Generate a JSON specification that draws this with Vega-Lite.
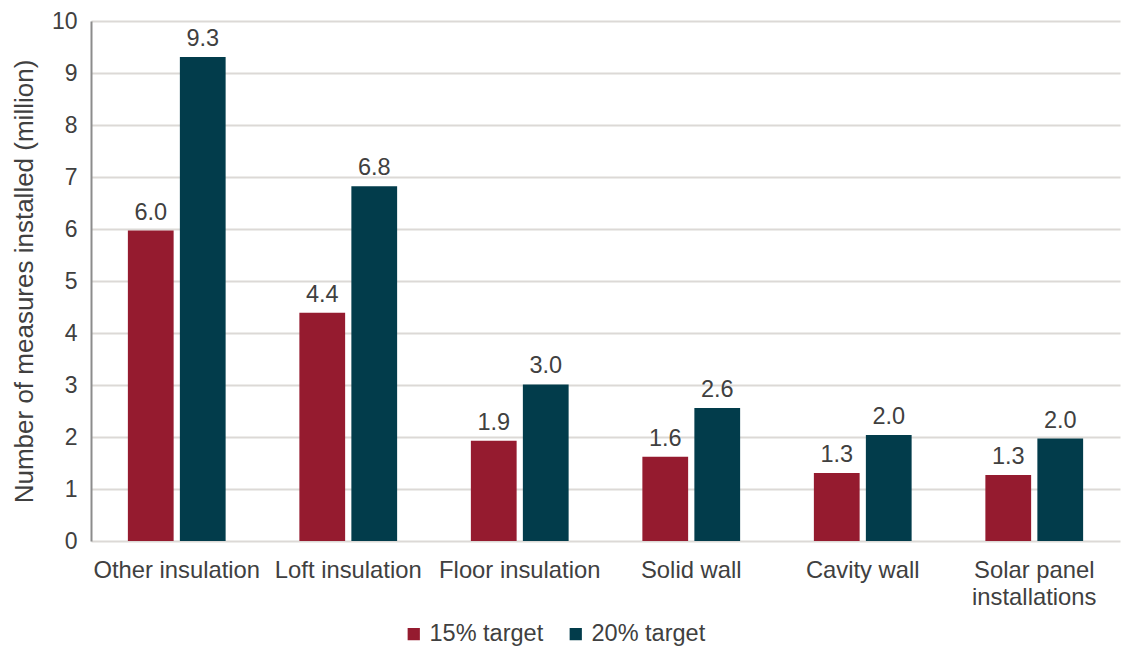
{
  "$schema": "https://vega.github.io/schema/vega-lite/v6.json",
  "width": 1124,
  "height": 649,
  "autosize": {"type": "fit", "contains": "padding"},
  "padding": {"left": 11, "right": 4, "top": 10, "bottom": 40},
  "background": "white",
  "config": {
    "font": "Liberation Sans",
    "view": {"stroke": null},
    "axis": {"labelFont": "Liberation Sans", "titleFont": "Liberation Sans"}
  },
  "data": {
    "values": [
      {"measure": "Other insulation", "series": "15% target", "value": 5.97},
      {"measure": "Other insulation", "series": "20% target", "value": 9.31},
      {"measure": "Loft insulation", "series": "15% target", "value": 4.39},
      {"measure": "Loft insulation", "series": "20% target", "value": 6.82},
      {"measure": "Floor insulation", "series": "15% target", "value": 1.93},
      {"measure": "Floor insulation", "series": "20% target", "value": 3.01},
      {"measure": "Solid wall", "series": "15% target", "value": 1.62},
      {"measure": "Solid wall", "series": "20% target", "value": 2.56},
      {"measure": "Cavity wall", "series": "15% target", "value": 1.31},
      {"measure": "Cavity wall", "series": "20% target", "value": 2.04},
      {"measure": "Solar panel installations", "series": "15% target", "value": 1.27},
      {"measure": "Solar panel installations", "series": "20% target", "value": 1.97}
    ]
  },
  "encoding": {
    "x": {
      "field": "measure", "type": "nominal", "sort": null,
      "scale": {"paddingInner": 0.43, "paddingOuter": 0.215},
      "axis": {
        "title": null, "labelAngle": 0, "labelFontSize": 23.8, "labelColor": "#404040",
        "labelPadding": 17, "ticks": false, "domain": false,
        "labelExpr": "datum.label == 'Solar panel installations' ? ['Solar panel', 'installations'] : datum.label",
        "labelLineHeight": 27
      }
    },
    "xOffset": {"field": "series", "type": "nominal", "scale": {"paddingInner": 0.12}},
    "y": {
      "field": "value", "type": "quantitative",
      "scale": {"domain": [0, 10]},
      "axis": {
        "title": "Number  of measures installed (million)",
        "titleFontSize": 26, "titleFontWeight": "normal", "titleColor": "#404040", "titlePadding": 14,
        "labelFontSize": 23, "labelColor": "#404040", "labelPadding": 14,
        "tickCount": 10, "ticks": false,
        "domainColor": "#8C8C8C", "domainWidth": 2,
        "gridColor": "#DCD9D6", "gridWidth": 2
      }
    }
  },
  "layer": [
    {
      "mark": {"type": "bar"},
      "encoding": {
        "color": {
          "field": "series", "type": "nominal",
          "scale": {"domain": ["15% target", "20% target"], "range": ["#951B2F", "#023C4B"]},
          "legend": {
            "orient": "none", "legendX": 311, "legendY": 601, "title": null, "direction": "horizontal",
            "symbolType": "square", "symbolSize": 150, "labelFontSize": 23.5, "labelColor": "#404040",
            "columnPadding": 20, "labelOffset": 4
          }
        }
      }
    },
    {
      "mark": {"type": "text", "dy": -18, "fontSize": 23.5, "color": "#404040"},
      "encoding": {
        "text": {"field": "value", "type": "quantitative", "format": ".1f"}
      }
    }
  ]
}
